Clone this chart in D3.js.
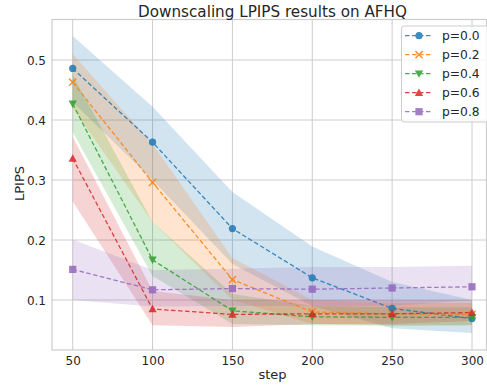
<!DOCTYPE html>
<html><head><meta charset="utf-8">
<script src="https://cdn.jsdelivr.net/npm/d3@7"></script>
<style>body{margin:0;background:#fff}svg{display:block;font-family:"DejaVu Sans",sans-serif}</style>
</head><body><svg id="c" width="487" height="387"></svg>
<script>
const steps = [50, 100, 150, 200, 250, 300];
const seriesNames = ["p=0.0", "p=0.2", "p=0.4", "p=0.6", "p=0.8"];
const mean00 = [0.486, 0.363, 0.219, 0.137, 0.086, 0.069];
const lo00 = [0.43, 0.30, 0.16, 0.09, 0.053, 0.045];
const hi00 = [0.54, 0.422, 0.28, 0.189, 0.13, 0.10];
const mean02 = [0.463, 0.296, 0.134, 0.080, 0.077, 0.076];
const lo02 = [0.42, 0.23, 0.10, 0.06, 0.058, 0.058];
const hi02 = [0.51, 0.36, 0.17, 0.10, 0.095, 0.095];
const mean04 = [0.427, 0.167, 0.082, 0.072, 0.071, 0.071];
const lo04 = [0.38, 0.14, 0.06, 0.058, 0.057, 0.058];
const hi04 = [0.475, 0.23, 0.11, 0.09, 0.088, 0.088];
const mean06 = [0.336, 0.085, 0.076, 0.077, 0.077, 0.079];
const lo06 = [0.264, 0.058, 0.055, 0.06, 0.06, 0.065];
const hi06 = [0.372, 0.115, 0.10, 0.10, 0.10, 0.10];
const mean08 = [0.151, 0.117, 0.119, 0.118, 0.120, 0.122];
const lo08 = [0.10, 0.089, 0.09, 0.09, 0.09, 0.10];
const hi08 = [0.201, 0.15, 0.152, 0.155, 0.155, 0.157];
const yTicks = [0.1, 0.2, 0.3, 0.4, 0.5];
const xTicks = [50, 100, 150, 200, 250, 300];

const means = [mean00, mean02, mean04, mean06, mean08];
const los = [lo00, lo02, lo04, lo06, lo08];
const his = [hi00, hi02, hi04, hi06, hi08];
const colors = ["#1f77b4", "#ff7f0e", "#2ca02c", "#d62728", "#9467bd"];
const symbols = ["circle", "x", "tdown", "tup", "square"];

const svg = d3.select("#c");
const L = 52, T = 19.5, R = 486.5, B = 350;
const x = d3.scaleLinear().domain([50, 300]).range([72.7, 472]);
const y = d3.scaleLinear().domain([0.5, 0.1]).range([60, 300]);

svg.append("rect").attr("x", L).attr("y", T).attr("width", R - L).attr("height", B - T)
  .attr("fill", "#fff");
const grid = svg.append("g");
xTicks.forEach(t => grid.append("line").attr("x1", x(t)).attr("x2", x(t)).attr("y1", T).attr("y2", B)
  .attr("stroke", "#cccccc").attr("stroke-width", 1));
yTicks.forEach(t => grid.append("line").attr("y1", y(t)).attr("y2", y(t)).attr("x1", L).attr("x2", R)
  .attr("stroke", "#cccccc").attr("stroke-width", 1));

const xa = svg.append("g").attr("transform", `translate(0,${B})`)
  .call(d3.axisBottom(x).tickValues(xTicks).tickSize(0).tickPadding(5).tickFormat(d3.format("d")));
const ya = svg.append("g").attr("transform", `translate(${L},0)`)
  .call(d3.axisLeft(y).tickValues(yTicks).tickSize(0).tickPadding(6).tickFormat(d3.format(".1f")));
[xa, ya].forEach(a => {
  a.select(".domain").remove();
  a.selectAll("text").attr("font-size", 12).attr("fill", "#262626").attr("font-family", "DejaVu Sans");
});
xa.selectAll("text").attr("dy", null).attr("y", 15);
ya.selectAll("text").attr("dy", "0.36em");

const area = d3.area().x((d, i) => x(steps[i])).y0(d => y(d[0])).y1(d => y(d[1]));
means.forEach((m, s) => {
  const dat = steps.map((_, i) => [los[s][i], his[s][i]]);
  svg.append("path").attr("d", area(dat)).attr("fill", colors[s]).attr("fill-opacity", 0.2);
});

const line = d3.line().x((d, i) => x(steps[i])).y(d => y(d));
function marker(g, sym, cx, cy, col) {
  const r = 3.6;
  if (sym === "circle") g.append("circle").attr("cx", cx).attr("cy", cy).attr("r", r).attr("fill", col);
  else if (sym === "square") g.append("rect").attr("x", cx - r).attr("y", cy - r).attr("width", 2 * r).attr("height", 2 * r).attr("fill", col);
  else if (sym === "x") g.append("path").attr("d", `M${cx - r},${cy - r}L${cx + r},${cy + r}M${cx - r},${cy + r}L${cx + r},${cy - r}`).attr("stroke", col).attr("stroke-width", 1.5).attr("fill", "none");
  else if (sym === "tdown") g.append("path").attr("d", `M${cx - r * 1.15},${cy - r * 0.9}L${cx + r * 1.15},${cy - r * 0.9}L${cx},${cy + r * 1.15}Z`).attr("fill", col);
  else if (sym === "tup") g.append("path").attr("d", `M${cx - r * 1.15},${cy + r * 0.9}L${cx + r * 1.15},${cy + r * 0.9}L${cx},${cy - r * 1.15}Z`).attr("fill", col);
}
means.forEach((m, s) => {
  const g = svg.append("g").attr("opacity", 0.85);
  g.append("path").attr("d", line(m)).attr("fill", "none").attr("stroke", colors[s])
    .attr("stroke-width", 1.3).attr("stroke-dasharray", "4.5,2.5");
  m.forEach((v, i) => marker(g, symbols[s], x(steps[i]), y(v), colors[s]));
});

svg.append("rect").attr("x", L).attr("y", T).attr("width", R - L).attr("height", B - T)
  .attr("fill", "none").attr("stroke", "#cccccc").attr("stroke-width", 1.2);

svg.append("text").attr("x", 272.5).attr("y", 16.5).attr("text-anchor", "middle").attr("font-size", 15.2)
  .attr("fill", "#262626").text("Downscaling LPIPS results on AFHQ");
svg.append("text").attr("x", 272.5).attr("y", 379).attr("text-anchor", "middle").attr("font-size", 13)
  .attr("fill", "#262626").text("step");
svg.append("text").attr("transform", "translate(24,183.5) rotate(-90)").attr("text-anchor", "middle")
  .attr("font-size", 13).attr("fill", "#262626").text("LPIPS");

const lg = svg.append("g");
lg.append("rect").attr("x", 401.5).attr("y", 26).attr("width", 90).attr("height", 96).attr("rx", 3)
  .attr("fill", "#fff").attr("fill-opacity", 0.8).attr("stroke", "#cccccc");
seriesNames.forEach((n, s) => {
  const cy = 35.7 + s * 19;
  const g = lg.append("g").attr("opacity", 0.85);
  g.append("line").attr("x1", 405).attr("x2", 433).attr("y1", cy).attr("y2", cy).attr("stroke", colors[s])
    .attr("stroke-width", 1.3).attr("stroke-dasharray", "4.5,2.5");
  marker(g, symbols[s], 419, cy, colors[s]);
  lg.append("text").attr("x", 442).attr("y", cy + 4.5).attr("font-size", 12.3).attr("fill", "#262626").text(n);
});
</script></body></html>
